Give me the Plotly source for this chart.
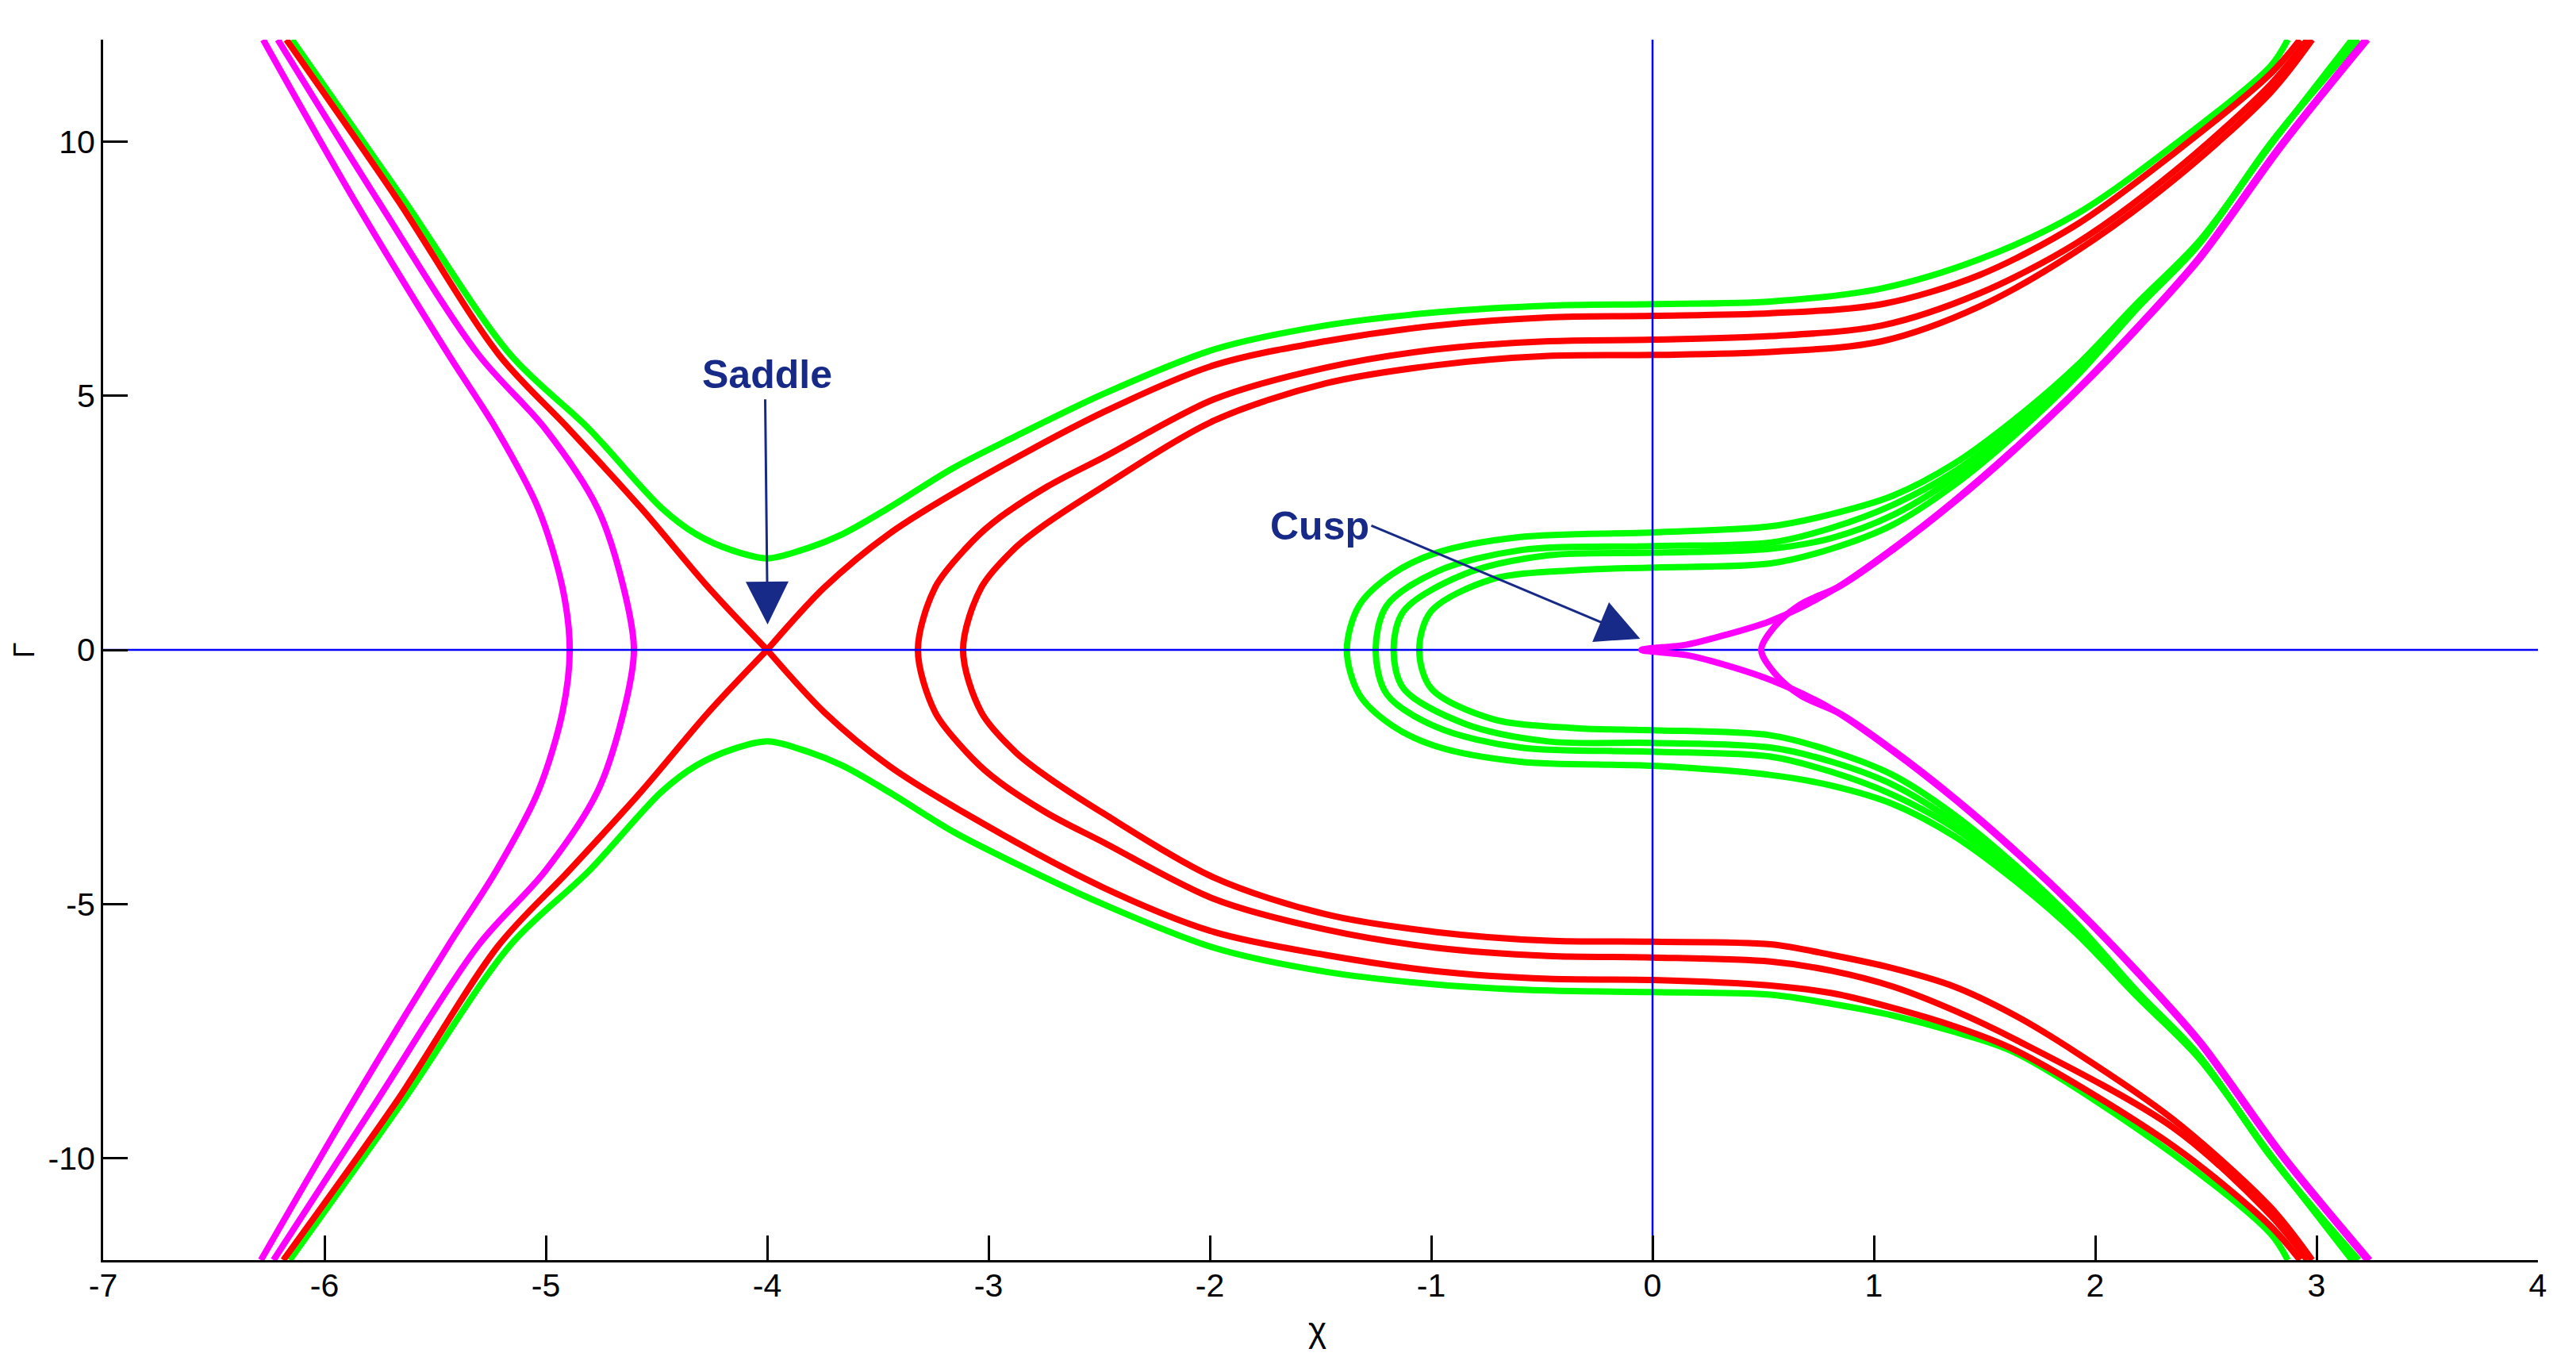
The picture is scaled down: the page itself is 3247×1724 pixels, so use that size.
import plotly.graph_objects as go

# ---------------- data ----------------
# magenta, left family (open to the left)
mag_l1_chi = [-6.277, -5.870, -5.440, -5.225, -5.035, -4.925, -4.892, -4.925, -5.035, -5.225, -5.440, -5.870, -6.287]
mag_l1_gam = [12, 8.88, 5.81, 4.35, 2.79, 1.23, 0, -1.23, -2.79, -4.35, -5.81, -8.88, -12]
mag_l2_chi = [-6.211, -5.765, -5.305, -5.003, -4.767, -4.649, -4.602, -4.649, -4.767, -5.003, -5.305, -5.765, -6.230]
mag_l2_gam = [12, 8.88, 5.81, 4.35, 2.79, 1.23, 0, -1.23, -2.79, -4.35, -5.81, -8.88, -12]

# red separatrix: four arms meeting at the saddle (-4, 0)
red_ul_chi = [-6.172, -5.674, -5.213, -4.897, -4.570, -4.266, -4.0]
red_ul_gam = [12, 8.88, 5.81, 4.35, 2.79, 1.23, 0]
red_ll_chi = [-6.186, -5.674, -5.213, -4.897, -4.570, -4.266, -4.0]
red_ll_gam = [-12, -8.88, -5.81, -4.35, -2.79, -1.23, 0]
red_ur_chi = [-4.0, -3.741, -3.45, -3.111, -2.483, -1.980, -1.477, -0.975, -0.471, 0.0, 0.534, 1.037, 1.476, 1.915, 2.354, 2.792, 2.925]
red_ur_gam = [0, 1.23, 2.28, 3.20, 4.67, 5.60, 6.07, 6.38, 6.54, 6.57, 6.62, 6.80, 7.37, 8.36, 9.76, 11.33, 12]
red_lr_chi = [-4.0, -3.741, -3.45, -3.111, -2.483, -1.980, -1.477, -0.975, -0.471, 0.0, 0.532, 0.809, 1.085, 1.362, 1.638, 2.354, 2.792, 2.925]
red_lr_gam = [0, -1.23, -2.28, -3.20, -4.67, -5.55, -6.00, -6.32, -6.47, -6.49, -6.60, -6.75, -7.04, -7.40, -7.87, -9.76, -11.33, -12]

# red closed-on-the-left curves
red_c1_chi = [2.958, 2.792, 2.354, 1.915, 1.476, 1.037, 0.534, 0.0, -0.471, -0.975, -1.477, -1.980, -2.483,
              -2.735, -2.986, -3.100, -3.241, -3.319, -3.241, -3.100, -2.986, -2.735, -2.483, -1.980, -1.477,
              -0.975, -0.471, 0.0, 0.532, 0.809, 1.085, 1.362, 1.638, 2.354, 2.792, 2.958]
red_c1_gam = [12, 11.12, 9.40, 8.00, 7.01, 6.38, 6.17, 6.10, 6.07, 5.91, 5.55, 4.93, 3.78,
              3.21, 2.48, 2.01, 1.23, 0, -1.23, -2.01, -2.48, -3.21, -3.78, -4.90, -5.50,
              -5.86, -6.02, -6.05, -6.13, -6.31, -6.62, -7.09, -7.66, -9.40, -11.12, -12]
red_c2_chi = [2.980, 2.792, 2.354, 1.915, 1.476, 1.037, 0.534, 0.0, -0.471, -0.975, -1.477, -1.980, -2.483,
              -2.750, -2.878, -3.032, -3.115, -3.032, -2.878, -2.750, -2.483, -1.980, -1.477,
              -0.975, -0.471, 0.0, 0.532, 0.809, 1.085, 1.362, 1.638, 1.915, 2.354, 2.792, 2.980]
red_c2_gam = [12, 10.96, 9.24, 7.84, 6.75, 6.07, 5.86, 5.80, 5.78, 5.60, 5.24, 4.51, 3.21,
              2.45, 2.01, 1.23, 0, -1.23, -2.01, -2.45, -3.21, -4.48, -5.20,
              -5.55, -5.72, -5.74, -5.79, -6.00, -6.26, -6.62, -7.19, -7.92, -9.24, -10.96, -12]

# green outer curves (upper and lower)
grn_up_chi = [-6.147, -5.646, -5.161, -4.806, -4.477, -4.319, -4.16, -4.0, -3.846, -3.663, -3.452, -3.162,
              -2.878, -2.483, -1.980, -1.477, -0.975, -0.471, 0.0, 0.534, 1.037, 1.476, 1.915, 2.354, 2.792, 2.870]
grn_up_gam = [12, 8.88, 5.81, 4.35, 2.79, 2.27, 1.96, 1.80, 1.96, 2.27, 2.79, 3.57,
              4.20, 5.03, 5.91, 6.38, 6.64, 6.77, 6.80, 6.85, 7.11, 7.68, 8.57, 9.92, 11.48, 12]
grn_lo_chi = [-6.157, -5.646, -5.161, -4.806, -4.477, -4.319, -4.16, -4.0, -3.846, -3.663, -3.452, -3.162,
              -2.878, -2.483, -1.980, -1.477, -0.975, -0.471, 0.0, 0.532, 0.809, 1.085, 1.362, 1.638, 2.354, 2.792, 2.870]
grn_lo_gam = [-12, -8.88, -5.81, -4.35, -2.79, -2.27, -1.96, -1.80, -1.96, -2.27, -2.79, -3.57,
              -4.20, -5.00, -5.86, -6.33, -6.58, -6.70, -6.73, -6.78, -6.96, -7.19, -7.51, -7.92, -9.92, -11.48, -12]

# green curves closed on the left (four of them)
grn_g1_chi = [3.16, 2.79, 2.468, 2.192, 1.915, 1.638, 1.362, 1.085, 0.809, 0.534, 0.0, -0.598, -0.975, -1.176, -1.326,
              -1.381, -1.326, -1.176, -0.975, -0.598, 0.0, 0.532, 0.809, 1.085, 1.362, 1.638, 1.915, 2.192, 2.468, 2.79, 3.16]
grn_g1_gam = [12, 9.92, 8.03, 6.83, 5.58, 4.54, 3.66, 3.03, 2.67, 2.43, 2.31, 2.22, 1.91, 1.49, 0.87,
              0, -0.87, -1.49, -1.90, -2.20, -2.28, -2.46, -2.67, -3.03, -3.66, -4.54, -5.58, -6.83, -8.03, -9.92, -12]
grn_g2_chi = [3.17, 2.79, 2.468, 2.192, 1.915, 1.638, 1.362, 1.085, 0.809, 0.534, 0.0, -0.598, -0.975, -1.201,
              -1.251, -1.201, -0.975, -0.598, 0.0, 0.532, 0.809, 1.085, 1.362, 1.638, 1.915, 2.192, 2.468, 2.79, 3.17]
grn_g2_gam = [12, 9.92, 8.00, 6.80, 5.50, 4.42, 3.50, 2.85, 2.40, 2.11, 2.04, 1.96, 1.54, 0.87,
              0, -0.87, -1.52, -1.92, -2.00, -2.10, -2.40, -2.85, -3.50, -4.42, -5.50, -6.80, -8.00, -9.92, -12]
grn_g3_chi = [3.18, 2.79, 2.468, 2.192, 1.915, 1.638, 1.362, 1.085, 0.809, 0.534, 0.0, -0.471, -0.850, -1.125,
              -1.170, -1.125, -0.850, -0.471, 0.0, 0.532, 0.809, 1.085, 1.362, 1.638, 1.915, 2.192, 2.468, 2.79, 3.18]
grn_g3_gam = [12, 9.95, 7.99, 6.77, 5.45, 4.33, 3.38, 2.65, 2.20, 1.99, 1.91, 1.86, 1.49, 0.76,
              0, -0.76, -1.45, -1.80, -1.83, -1.92, -2.20, -2.65, -3.38, -4.33, -5.45, -6.77, -7.99, -9.95, -12]
grn_g4_chi = [3.19, 2.80, 2.468, 2.192, 1.915, 1.638, 1.362, 1.085, 0.809, 0.534, 0.0, -0.345, -0.724, -1.000,
              -1.054, -1.000, -0.724, -0.345, 0.0, 0.532, 0.809, 1.085, 1.362, 1.638, 1.915, 2.192, 2.468, 2.80, 3.19]
grn_g4_gam = [12, 10.0, 7.97, 6.73, 5.38, 4.23, 3.24, 2.46, 1.99, 1.70, 1.62, 1.57, 1.39, 0.76,
              0, -0.76, -1.36, -1.54, -1.58, -1.68, -1.99, -2.46, -3.24, -4.23, -5.38, -6.73, -7.97, -10.0, -12]

# magenta, right family: the cusp curve and the one with its tip at chi ~ 0.49
mag_cusp_chi = [3.221, 2.837, 2.468, 2.192, 1.915, 1.638, 1.362, 1.085, 0.809, 0.534, 0.283, 0.15, -0.05,
                0.15, 0.283, 0.532, 0.809, 1.085, 1.362, 1.638, 1.915, 2.192, 2.468, 2.837, 3.230]
mag_cusp_gam = [12, 9.92, 7.71, 6.36, 5.11, 3.97, 2.93, 1.99, 1.16, 0.57, 0.24, 0.10, 0,
                -0.10, -0.24, -0.59, -1.16, -1.99, -2.93, -3.97, -5.11, -6.36, -7.71, -9.92, -12]
mag_tip_chi = [3.230, 2.845, 2.476, 2.200, 1.923, 1.646, 1.370, 1.093, 0.850, 0.670, 0.550, 0.491,
               0.550, 0.670, 0.850, 1.093, 1.370, 1.646, 1.923, 2.200, 2.476, 2.845, 3.240]
mag_tip_gam = [12, 9.92, 7.71, 6.36, 5.11, 3.97, 2.93, 1.99, 1.26, 0.90, 0.45, 0,
               -0.45, -0.90, -1.26, -1.99, -2.93, -3.97, -5.11, -6.36, -7.71, -9.92, -12]

# coordinate axes drawn inside the plot
axis_v_chi, axis_v_gam = [0, 0], [-12, 12]
axis_h_chi, axis_h_gam = [-7, 4], [0, 0]

# ticks
x_ticks = [-7, -6, -5, -4, -3, -2, -1, 0, 1, 2, 3, 4]
x_tick_text = ["-7", "-6", "-5", "-4", "-3", "-2", "-1", "0", "1", "2", "3", "4"]
y_ticks = [-10, -5, 0, 5, 10]
y_tick_text = ["-10", "-5", "0", "5", "10"]

# annotations (label, text position, arrow tail, arrow tip)
saddle_label = "Saddle"
saddle_text_xy = (-4.0, 5.41)
saddle_tail_xy = (-4.009, 4.95)
saddle_tip_xy = (-3.998, 0.50)
cusp_label = "Cusp"
cusp_text_xy = (-1.502, 2.43)
cusp_tail_xy = (-1.276, 2.455)
cusp_tip_xy = (-0.056, 0.22)

# ---------------- figure ----------------
RED, GREEN, MAGENTA, BLUE = "#FF0000", "#00FF00", "#FF00FF", "#0000FF"
NAVY = "#172A88"
LW = 8

fig = go.Figure()

def add(x, y, color, shape="spline", width=LW):
    line = dict(color=color, width=width, shape=shape)
    if shape == "spline":
        line["smoothing"] = 0.9
    fig.add_trace(go.Scatter(x=x, y=y, mode="lines", line=line, hoverinfo="skip", showlegend=False))

# green first (under), then red, magenta left, blue axes, magenta right
add(grn_up_chi, grn_up_gam, GREEN)
add(grn_lo_chi, grn_lo_gam, GREEN)
for cx, cy in [(grn_g1_chi, grn_g1_gam), (grn_g2_chi, grn_g2_gam), (grn_g3_chi, grn_g3_gam), (grn_g4_chi, grn_g4_gam)]:
    add(cx, cy, GREEN)
for cx, cy in [(red_ul_chi, red_ul_gam), (red_ll_chi, red_ll_gam), (red_ur_chi, red_ur_gam), (red_lr_chi, red_lr_gam)]:
    add(cx, cy, RED)
add(red_c1_chi, red_c1_gam, RED)
add(red_c2_chi, red_c2_gam, RED)
add(mag_l1_chi, mag_l1_gam, MAGENTA)
add(mag_l2_chi, mag_l2_gam, MAGENTA)
add(axis_v_chi, axis_v_gam, BLUE, shape="linear", width=2.5)
add(axis_h_chi, axis_h_gam, BLUE, shape="linear", width=2.5)
add(mag_cusp_chi, mag_cusp_gam, MAGENTA)
add(mag_tip_chi, mag_tip_gam, MAGENTA)

tick_font = dict(family="Liberation Sans Narrow, Arial Narrow, Liberation Sans, sans-serif", size=41, color="black")

fig.update_xaxes(range=[-7, 4], tickvals=x_ticks, ticktext=x_tick_text, ticks="inside", ticklen=31, tickwidth=2.5,
                 tickcolor="black", showline=True, linecolor="black", linewidth=3, mirror=False,
                 showgrid=False, zeroline=False, tickfont=tick_font, ticklabelstandoff=-6)
fig.update_yaxes(range=[-12, 12], tickvals=y_ticks, ticktext=y_tick_text, ticks="inside", ticklen=31, tickwidth=2.5,
                 tickcolor="black", showline=True, linecolor="black", linewidth=3, mirror=False,
                 showgrid=False, zeroline=False, tickfont=tick_font, ticklabelstandoff=-1)

ann_font = dict(family="Liberation Sans, Arial, sans-serif", size=50, color=NAVY)
annotations = [
    dict(x=saddle_text_xy[0], y=saddle_text_xy[1], xref="x", yref="y", text="<b>%s</b>" % saddle_label,
         showarrow=False, font=ann_font, xanchor="center", yanchor="middle"),
    dict(x=saddle_tip_xy[0], y=saddle_tip_xy[1], ax=saddle_tail_xy[0], ay=saddle_tail_xy[1],
         xref="x", yref="y", axref="x", ayref="y", text="", showarrow=True,
         arrowhead=2, arrowwidth=3, arrowsize=3.6, arrowcolor=NAVY, standoff=0),
    dict(x=cusp_text_xy[0], y=cusp_text_xy[1], xref="x", yref="y", text="<b>%s</b>" % cusp_label,
         showarrow=False, font=ann_font, xanchor="center", yanchor="middle"),
    dict(x=cusp_tip_xy[0], y=cusp_tip_xy[1], ax=cusp_tail_xy[0], ay=cusp_tail_xy[1],
         xref="x", yref="y", axref="x", ayref="y", text="", showarrow=True,
         arrowhead=2, arrowwidth=3, arrowsize=3.6, arrowcolor=NAVY, standoff=0),
    dict(x=0.4988, y=-0.057, xref="paper", yref="paper", text="χ", showarrow=False,
         font=dict(family="Liberation Sans Narrow, Liberation Sans, sans-serif", size=44, color="black"),
         xanchor="center", yanchor="middle"),
    dict(x=-0.0325, y=0.5, xref="paper", yref="paper", text="Γ", showarrow=False, textangle=-90,
         font=dict(family="Liberation Sans Narrow, Liberation Sans, sans-serif", size=36, color="black"),
         xanchor="center", yanchor="middle"),
]

# the page adds an 8 px body margin, so the figure is sized to fit inside the window
fig.update_layout(width=3231, height=1708, autosize=False,
                  margin=dict(l=122, r=40, t=42, b=128),
                  paper_bgcolor="white", plot_bgcolor="white",
                  showlegend=False, annotations=annotations)

fig.write_html("out.html")
